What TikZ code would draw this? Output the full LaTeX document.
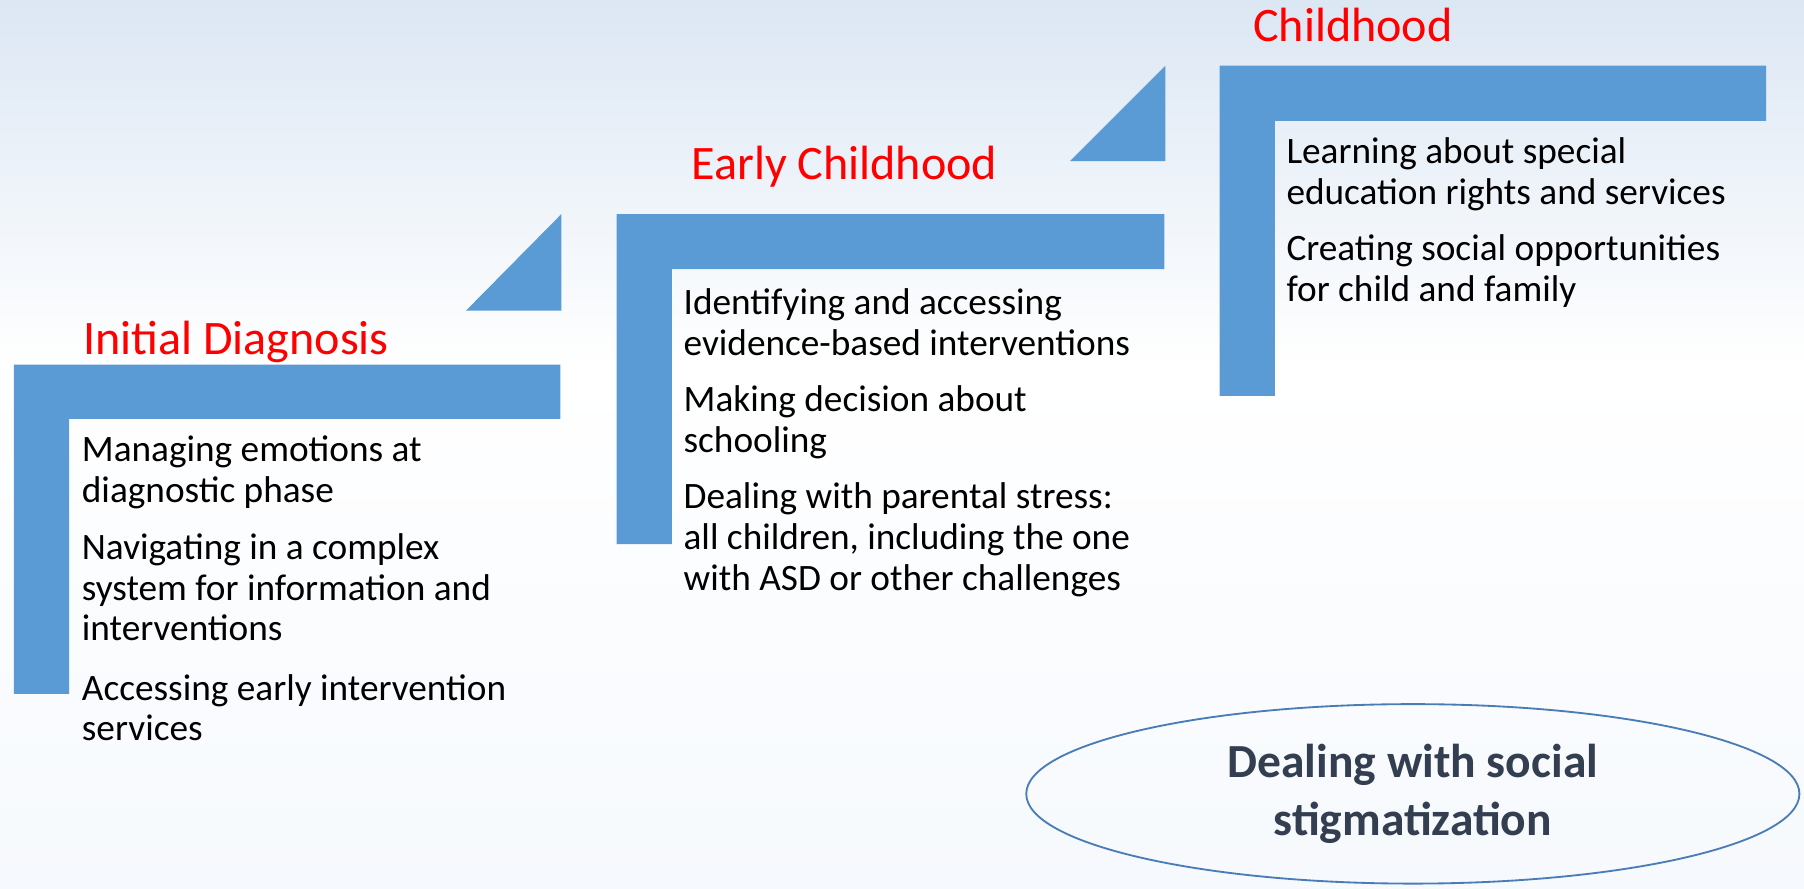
\documentclass[tikz,border=0pt]{standalone}
\usepackage{fontspec}
\setmainfont{Carlito}
\usetikzlibrary{shapes.geometric}
\definecolor{stepblue}{HTML}{5B9BD5}
\definecolor{titlered}{HTML}{FF0000}
\definecolor{darkslate}{HTML}{333F50}
\definecolor{ringblue}{HTML}{4A7DB5}
\definecolor{bgtop}{HTML}{DCE7F4}
\definecolor{bgbot}{HTML}{F6F9FD}
\tikzset{
  stepshape/.style={fill=stepblue, draw=none},
  phasetitle/.style={anchor=base west, inner sep=0pt, text=titlered, font=\fontsize{41.8}{46}\selectfont},
  itemtext/.style={anchor=base west, inner sep=0pt, align=left, text=black, font=\fontsize{32.4}{35.5}\selectfont},
  ringnode/.style={ellipse, draw=ringblue, line width=1.6pt, minimum width=672pt, minimum height=156pt, inner sep=0pt, align=center, text=darkslate, font=\fontsize{41.3}{50}\selectfont\bfseries}
}
\begin{document}
\begin{tikzpicture}[x=1pt,y=-1pt]
\useasboundingbox (0,0) rectangle (1568,772);
% background
\shade[top color=bgtop, bottom color=white, draw=none] (0,0) rectangle (1568,320);
\shade[top color=white, bottom color=bgbot, draw=none] (0,320) rectangle (1568,772);
% step shapes
\fill[stepshape] (12,317) -- (487,317) -- (487,364) -- (60,364) -- (60,603) -- (12,603) -- cycle;
\fill[stepshape] (536,186) -- (1012,186) -- (1012,234) -- (584,234) -- (584,473) -- (536,473) -- cycle;
\fill[stepshape] (1060,57) -- (1535,57) -- (1535,105) -- (1108,105) -- (1108,344) -- (1060,344) -- cycle;
% triangles
\fill[stepshape] (405,270) -- (488,186) -- (488,270) -- cycle;
\fill[stepshape] (930,140) -- (1013,57) -- (1013,140) -- cycle;
% titles
\node[phasetitle] (t1) at (72,308) {Initial Diagnosis};
\node[phasetitle] (t2) at (601,156) {Early Childhood};
\node[phasetitle] (t3) at (1089,36) {Childhood};
% phase 1 items (anchored at last line's baseline)
\node[itemtext] (a1) at (71,437) {Managing emotions at\\diagnostic phase};
\node[itemtext] (a2) at (71,557) {Navigating in a complex\\system for information and\\interventions};
\node[itemtext] (a3) at (71,644) {Accessing early intervention\\services};
% phase 2 items
\node[itemtext] (b1) at (594,309) {Identifying and accessing\\evidence-based interventions};
\node[itemtext] (b2) at (594,393) {Making decision about\\schooling};
\node[itemtext] (b3) at (594,513) {Dealing with parental stress:\\all children, including the one\\with ASD or other challenges};
% phase 3 items
\node[itemtext] (c1) at (1118,178) {Learning about special\\education rights and services};
\node[itemtext] (c2) at (1118,262) {Creating social opportunities\\for child and family};
% ellipse
\node[ringnode] (ring) at (1228,690) {Dealing with social\\stigmatization};
\end{tikzpicture}
\end{document}
